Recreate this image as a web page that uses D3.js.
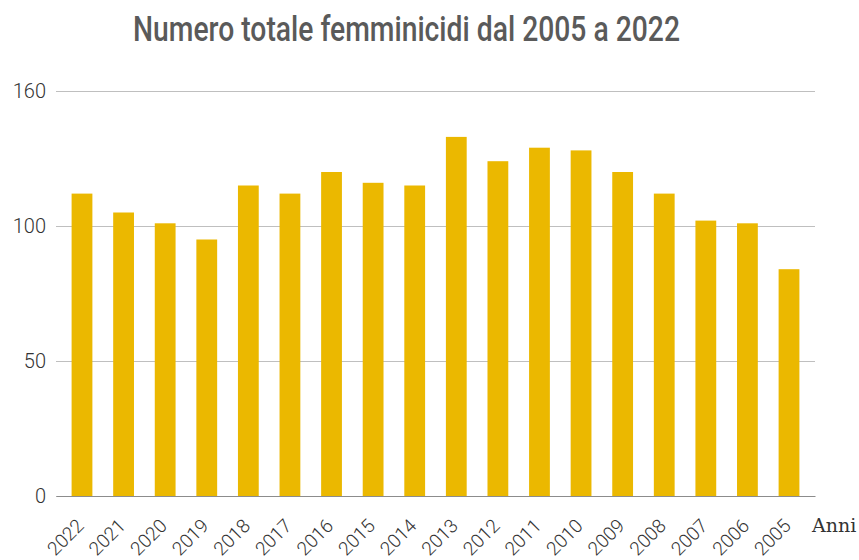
<!DOCTYPE html>
<html>
<head>
<meta charset="utf-8">
<script src="https://cdn.jsdelivr.net/npm/d3@7"></script>
<style>
  body { margin: 0; background: #fff; }
  svg { display: block; }
  .title { font-family: "Roboto", "DejaVu Sans", sans-serif; font-weight: 500; font-size: 35px; fill: #5a5a5a; }
  .axis-y text { font-family: "Roboto", "DejaVu Sans", sans-serif; font-weight: 300; font-size: 20px; fill: #333; }
  .axis-x text { font-family: "Roboto", "DejaVu Sans", sans-serif; font-weight: 300; font-size: 19px; fill: #333; }
  .anni { font-family: "DejaVu Serif", serif; font-size: 19px; fill: #333; }
</style>
</head>
<body>
<div id="chart"></div>
<script>
// anni, dal più recente al più vecchio (come nel grafico)
var years = ["2022","2021","2020","2019","2018","2017","2016","2015","2014",
             "2013","2012","2011","2010","2009","2008","2007","2006","2005"];
var femminicidi = [112,105,101,95,115,112,120,116,115,133,124,129,128,120,112,102,101,84];

// tick dell'asse y (la griglia più alta è etichettata "160" nell'originale)
var yTicks = [0, 50, 100, 150];
var yTickLabels = ["0", "50", "100", "160"];

var width = 859, height = 560;
var margin = {t: 91, r: 44, b: 64, l: 56};

var svg = d3.select('#chart')
    .append('svg')
    .attr('width', width)
    .attr('height', height);

var scaleX = d3.scaleBand().domain(years)
    .range([margin.l, width - margin.r])
    .paddingInner(0.5).paddingOuter(0.375);
var scaleY = d3.scaleLinear().domain([0, 150])
    .range([height - margin.b, margin.t]);

// titolo
svg.append('text')
    .attr('class', 'title')
    .attr('x', 133).attr('y', 41)
    .attr('textLength', 547)
    .attr('lengthAdjust', 'spacingAndGlyphs')
    .text('Numero totale femminicidi dal 2005 a 2022');

// griglia + etichette y
var axisY = d3.axisLeft(scaleY)
    .tickValues(yTicks)
    .tickFormat(function(d, i){ return yTickLabels[i]; })
    .tickSize(-(width - margin.r - margin.l))
    .tickPadding(10);

var gy = svg.append('g').attr('class', 'axis axis-y')
    .attr('transform', 'translate(' + margin.l + ',0)')
    .call(axisY);
gy.select('.domain').remove();
gy.selectAll('line').attr('stroke', '#bfbfbf').attr('stroke-width', 1);
gy.selectAll('text').attr('x', -10);

// barre
svg.append('g').attr('class', 'bars')
    .selectAll('rect')
    .data(femminicidi)
    .enter().append('rect')
    .attr('x', function(d, i){ return scaleX(years[i]); })
    .attr('y', function(d){ return scaleY(d); })
    .attr('width', scaleX.bandwidth())
    .attr('height', function(d){ return scaleY(0) - scaleY(d); })
    .attr('fill', '#ebb800');

// asse x
var axisX = d3.axisBottom(scaleX).tickSize(0).tickPadding(0);
var gx = svg.append('g').attr('class', 'axis axis-x')
    .attr('transform', 'translate(0,' + scaleY(0) + ')')
    .call(axisX);
gx.select('.domain').attr('stroke', '#8c8c8c').attr('stroke-width', 1.2);
gx.selectAll('text')
    .attr('text-anchor', 'end')
    .attr('dy', 0)
    .attr('y', 0)
    .attr('transform', 'translate(3,31) rotate(-45)');

svg.append('text')
    .attr('class', 'anni')
    .attr('x', 812).attr('y', 532)
    .text('Anni');
</script>
</body>
</html>
